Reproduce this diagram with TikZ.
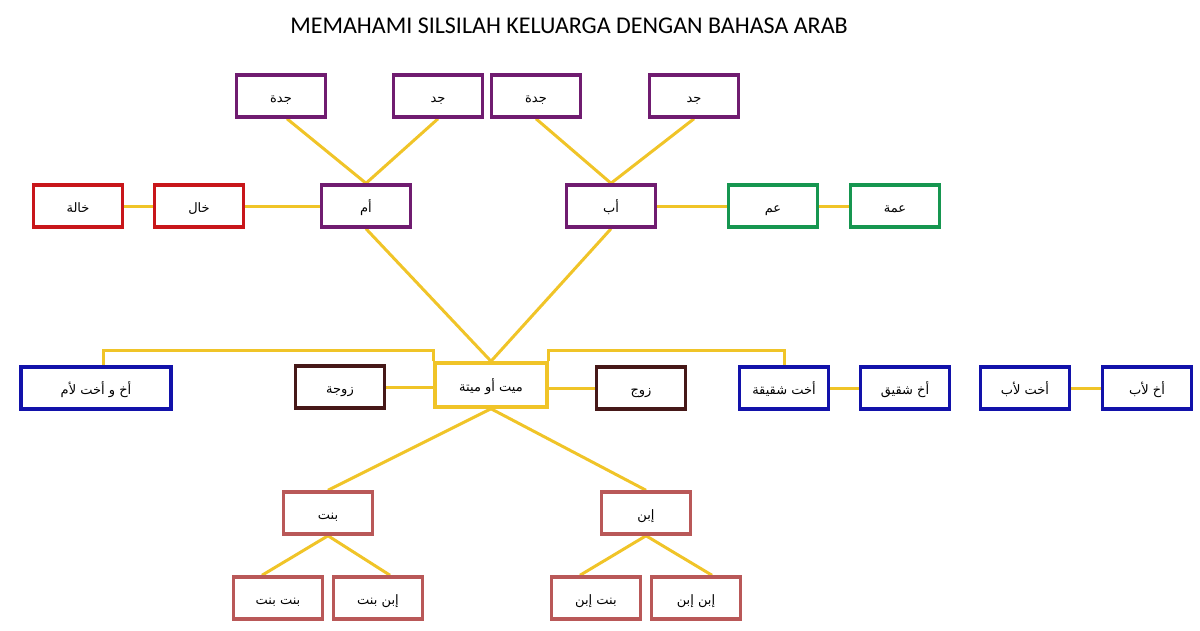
\documentclass[tikz,border=0pt]{standalone}
\usepackage{fontspec}
\newfontfamily\arabicfont[Script=Arabic]{DejaVu Sans}
\newfontfamily\titlefont{Carlito}
\TeXXeTstate=1
\usetikzlibrary{backgrounds}
\definecolor{cpurple}{RGB}{112,28,112}
\definecolor{cred}{RGB}{200,22,26}
\definecolor{cgreen}{RGB}{22,150,80}
\definecolor{cblue}{RGB}{18,18,170}
\definecolor{cbrown}{RGB}{70,24,24}
\definecolor{crose}{RGB}{185,88,88}
\definecolor{cyellow}{RGB}{240,196,40}
\tikzset{
  box/.style={draw, line width=3.5pt, fill=white, minimum width=89pt, minimum height=42pt, inner sep=0pt, text height=12pt, text depth=0pt, font=\arabicfont\fontsize{13}{15}\selectfont},
  conn/.style={draw=cyellow, line width=3pt},
}
\newcommand{\ar}[1]{\beginR #1\endR}
\begin{document}
\begin{tikzpicture}[x=1pt,y=-1pt]
\path[use as bounding box] (0,0) rectangle (1200,630);
\node[font=\titlefont\fontsize{24}{28}\selectfont, anchor=base, inner sep=0pt] (title) at (569,33) {MEMAHAMI SILSILAH KELUARGA DENGAN BAHASA ARAB};
% top row
\node[box, draw=cpurple] (jdh1) at (281,96) {\ar{جدة}};
\node[box, draw=cpurple] (jd1) at (438,96) {\ar{جد}};
\node[box, draw=cpurple] (jdh2) at (536,96) {\ar{جدة}};
\node[box, draw=cpurple] (jd2) at (694,96) {\ar{جد}};
% second row
\node[box, draw=cred] (khala) at (78,206) {\ar{خالة}};
\node[box, draw=cred] (khal) at (199,206) {\ar{خال}};
\node[box, draw=cpurple] (umm) at (366,206) {\ar{أم}};
\node[box, draw=cpurple] (ab) at (611,206) {\ar{أب}};
\node[box, draw=cgreen] (amm) at (773,206) {\ar{عم}};
\node[box, draw=cgreen] (amma) at (895,206) {\ar{عمة}};
% third row
\node[box, draw=cblue, minimum width=150pt] (akhum) at (96,388) {\ar{أخ و أخت لأم}};
\node[box, draw=cbrown] (zawja) at (340,387) {\ar{زوجة}};
\node[box, draw=cyellow, minimum width=112pt, minimum height=44pt] (mayt) at (491,385) {\ar{ميت أو ميتة}};
\node[box, draw=cbrown] (zawj) at (641,388) {\ar{زوج}};
\node[box, draw=cblue] (ukhtsh) at (784,388) {\ar{أخت شقيقة}};
\node[box, draw=cblue] (akhsh) at (905,388) {\ar{أخ شقيق}};
\node[box, draw=cblue] (ukhtab) at (1025,388) {\ar{أخت لأب}};
\node[box, draw=cblue] (akhab) at (1147,388) {\ar{أخ لأب}};
% fourth row
\node[box, draw=crose] (bint) at (328,513) {\ar{بنت}};
\node[box, draw=crose] (ibn) at (646,513) {\ar{إبن}};
% fifth row
\node[box, draw=crose] (bb) at (278,598) {\ar{بنت بنت}};
\node[box, draw=crose] (ib) at (378,598) {\ar{إبن بنت}};
\node[box, draw=crose] (bi) at (596,598) {\ar{بنت إبن}};
\node[box, draw=crose] (ii) at (696,598) {\ar{إبن إبن}};
\coordinate (lb) at (103,350);
\coordinate (rb) at (784,350);
\begin{scope}[on background layer]
\draw[conn] ([xshift=6pt]jdh1.south) -- (umm.north);
\draw[conn] (jd1.south) -- (umm.north);
\draw[conn] (jdh2.south) -- (ab.north);
\draw[conn] (jd2.south) -- (ab.north);
\draw[conn] (khala) -- (khal);
\draw[conn] (khal) -- (umm);
\draw[conn] (ab) -- (amm);
\draw[conn] (amm) -- (amma);
\draw[conn] (umm.south) -- (mayt.north);
\draw[conn] (ab.south) -- (mayt.north);
\draw[conn] (mayt.north west) -- (mayt.north west |- lb) -- (lb) -- (lb |- akhum.north);
\draw[conn] (mayt.north east) -- (mayt.north east |- rb) -- (rb) -- (ukhtsh.north);
\draw[conn] (zawja.east) -- (mayt.west |- zawja.east);
\draw[conn] (zawj.west) -- (mayt.east |- zawj.west);
\draw[conn] (ukhtsh) -- (akhsh);
\draw[conn] (ukhtab) -- (akhab);
\draw[conn] (mayt.south) -- (bint.north);
\draw[conn] (mayt.south) -- (ibn.north);
\draw[conn] (bint.south) -- ([xshift=-16pt]bb.north);
\draw[conn] (bint.south) -- ([xshift=12pt]ib.north);
\draw[conn] (ibn.south) -- ([xshift=-16pt]bi.north);
\draw[conn] (ibn.south) -- ([xshift=16pt]ii.north);
\end{scope}
\end{tikzpicture}
\end{document}
